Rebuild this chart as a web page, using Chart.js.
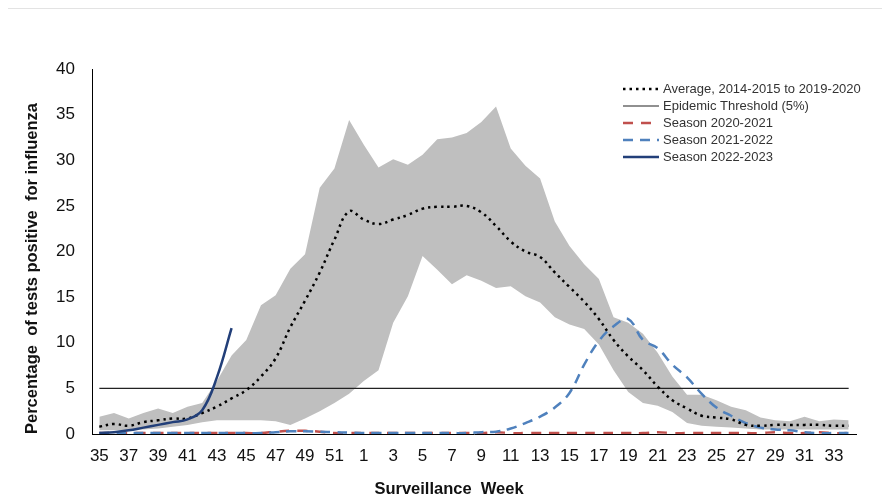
<!DOCTYPE html>
<html lang="en">
<head>
<meta charset="UTF-8">
<title>Influenza positivity by surveillance week</title>
<style>
  html, body { margin: 0; padding: 0; background: #fff; }
  .topline { position: absolute; top: 8px; left: 8px; right: 0; height: 1px; background: #e3e3e3; }
  #chart { position: absolute; top: 0; left: 0; width: 882px; height: 503px; }
</style>
</head>
<body>
<div class="topline"></div>
<canvas id="chart" width="882" height="503"></canvas>

<script src="https://cdn.jsdelivr.net/npm/chart.js"></script>
<script>
  // surveillance weeks 35 .. 52, 1 .. 34
  const weeks = [35, 36, 37, 38, 39, 40, 41, 42, 43, 44, 45, 46, 47, 48, 49, 50, 51, 52,
                 1, 2, 3, 4, 5, 6, 7, 8, 9, 10, 11, 12, 13, 14, 15, 16, 17, 18, 19, 20,
                 21, 22, 23, 24, 25, 26, 27, 28, 29, 30, 31, 32, 33, 34];

  // min / max range of the 2014-2015 .. 2019-2020 seasons (grey band)
  const rangeLow = [0.4, 0.4, 0.4, 0.5, 0.6, 0.8, 1.0, 1.3, 1.5, 1.5,
                    1.5, 1.5, 1.4, 1.0, 1.7, 2.5, 3.4, 4.4, 5.8, 7.0,
                    12.2, 15.1, 19.5, 18.0, 16.4, 17.4, 16.8, 16.0, 16.2, 15.1,
                    14.4, 12.8, 12.0, 11.5, 9.8, 7.0, 4.6, 3.4, 3.1, 2.4,
                    1.2, 0.9, 0.8, 0.7, 0.6, 0.5, 0.5, 0.5, 0.5, 0.5,
                    0.5, 0.5];
  const rangeHigh = [1.9, 2.3, 1.7, 2.3, 2.8, 2.3, 3.0, 3.4, 5.8, 8.6,
                     10.3, 14.1, 15.2, 18.1, 19.7, 27.0, 29.1, 34.4, 31.7, 29.2,
                     30.1, 29.5, 30.6, 32.3, 32.5, 33.0, 34.2, 35.9, 31.3, 29.4,
                     28.0, 23.3, 20.6, 18.6, 17.0, 12.8, 12.2, 11.0, 8.9, 6.3,
                     4.3, 4.3, 3.7, 3.0, 2.6, 1.8, 1.5, 1.4, 1.9, 1.4,
                     1.6, 1.5];

  const average = [0.8, 1.1, 0.9, 1.3, 1.5, 1.7, 1.7, 2.3, 3.0, 3.9,
                   4.8, 6.3, 8.3, 11.7, 14.6, 17.7, 21.3, 24.4, 23.5, 23.0,
                   23.5, 24.0, 24.7, 24.9, 24.9, 25.0, 24.3, 22.8, 21.1, 20.0,
                   19.4, 17.7, 16.1, 14.5, 12.6, 10.3, 8.5, 7.0, 5.2, 3.7,
                   2.8, 2.0, 1.8, 1.6, 1.0, 0.9, 1.0, 1.0, 1.0, 1.0,
                   0.9, 0.9];

  const season2021 = [0.1, 0.1, 0.1, 0.1, 0.1, 0.1, 0.1, 0.1, 0.1, 0.1,
                      0.1, 0.1, 0.25, 0.35, 0.35, 0.25, 0.1, 0.1, 0.1, 0.1,
                      0.1, 0.1, 0.1, 0.1, 0.1, 0.1, 0.1, 0.2, 0.1, 0.1,
                      0.1, 0.1, 0.1, 0.1, 0.1, 0.1, 0.1, 0.1, 0.2, 0.1,
                      0.1, 0.1, 0.1, 0.1, 0.1, 0.1, 0.2, 0.1, 0.1, 0.2,
                      0.1, 0.1];

  const season2122 = [0.1, 0.1, 0.1, 0.1, 0.1, 0.1, 0.1, 0.1, 0.1, 0.1,
                      0.1, 0.1, 0.2, 0.3, 0.3, 0.25, 0.2, 0.15, 0.1, 0.1,
                      0.1, 0.1, 0.1, 0.1, 0.1, 0.1, 0.2, 0.25, 0.6, 1.2,
                      1.9, 2.9, 4.5, 7.6, 10.2, 11.8, 12.6, 10.3, 9.4, 7.6,
                      6.2, 4.4, 2.9, 2.0, 1.2, 0.7, 0.5, 0.4, 0.2, 0.1,
                      0.1, 0.1];

  const season2223 = [0.1, 0.2, 0.4, 0.7, 1.0, 1.3, 1.6, 2.6, 6.2, 11.6];

  const THRESHOLD = 5;
  const threshold = weeks.map(() => THRESHOLD);

  const FONT = '"Liberation Sans", Arial, sans-serif';

  // legend drawn in the top right corner of the plot
  const legendOrder = [2, 3, 4, 5, 6];
  const sideLegend = {
    id: 'sideLegend',
    afterDraw(chart) {
      const ctx = chart.ctx;
      ctx.save();
      ctx.font = '13px ' + FONT;
      ctx.textBaseline = 'middle';
      legendOrder.forEach((idx, row) => {
        const ds = chart.data.datasets[idx];
        const y = 89 + row * 17;
        ctx.beginPath();
        ctx.setLineDash(ds.borderDash || []);
        ctx.lineWidth = ds.borderWidth;
        ctx.strokeStyle = ds.borderColor;
        ctx.moveTo(623, y);
        ctx.lineTo(659, y);
        ctx.stroke();
        ctx.setLineDash([]);
        ctx.fillStyle = '#333';
        ctx.fillText(ds.label, 663, y);
      });
      ctx.restore();
    }
  };

  const xTitle = {
    id: 'xTitle',
    afterDraw(chart) {
      const ctx = chart.ctx;
      ctx.save();
      ctx.font = 'bold 16.5px ' + FONT;
      ctx.fillStyle = '#111';
      ctx.textAlign = 'center';
      ctx.textBaseline = 'middle';
      ctx.fillText('Surveillance  Week', 449, 489);
      ctx.restore();
    }
  };

  new Chart(document.getElementById('chart'), {
    type: 'line',
    data: {
      labels: weeks,
      datasets: [
        { label: 'range low', data: rangeLow, borderWidth: 0, pointRadius: 0,
          fill: false, tension: 0, order: 6 },
        { label: 'range high', data: rangeHigh, borderWidth: 0, pointRadius: 0,
          fill: '-1', backgroundColor: '#bfbfbf', tension: 0, order: 5 },
        { label: 'Average, 2014-2015 to 2019-2020', data: average, borderColor: '#000',
          borderWidth: 2.5, borderDash: [2.5, 4], pointRadius: 0, tension: 0.4, order: 1 },
        { label: 'Epidemic Threshold (5%)', data: threshold, borderColor: '#222',
          borderWidth: 1.2, pointRadius: 0, tension: 0, order: 4 },
        { label: 'Season 2020-2021', data: season2021, borderColor: '#c0504d',
          borderWidth: 2.5, borderDash: [10, 8], pointRadius: 0, tension: 0.4, order: 3 },
        { label: 'Season 2021-2022', data: season2122, borderColor: '#4f81bd',
          borderWidth: 2.5, borderDash: [10, 7], pointRadius: 0, tension: 0.4, order: 2 },
        { label: 'Season 2022-2023', data: season2223, borderColor: '#223f79',
          borderWidth: 2.5, pointRadius: 0, tension: 0.4, order: 0 }
      ]
    },
    options: {
      responsive: false,
      animation: false,
      layout: { padding: { top: 69, right: 26, left: 0, bottom: 0 } },
      plugins: {
        legend: { display: false },
        tooltip: { enabled: false }
      },
      scales: {
        x: {
          offset: true,
          grid: { display: false, drawTicks: false },
          border: { display: true, color: '#000', width: 1 },
          ticks: {
            autoSkip: false,
            maxRotation: 0,
            minRotation: 0,
            padding: 12,
            color: '#111',
            font: { family: FONT, size: 17 },
            callback: function (value, index) {
              return index % 2 === 0 ? this.getLabelForValue(value) : '';
            }
          },
          afterFit: s => { s.height = 69; }
        },
        y: {
          min: 0,
          max: 40,
          grid: { display: false, drawTicks: false },
          border: { display: true, color: '#000', width: 1 },
          ticks: {
            stepSize: 5,
            padding: 17,
            color: '#111',
            font: { family: FONT, size: 17 }
          },
          title: {
            display: true,
            text: 'Percentage  of tests positive  for influenza',
            align: 'start',
            color: '#111',
            font: { family: FONT, size: 16.5, weight: 'bold' },
            padding: { top: 23, bottom: 0 }
          },
          afterFit: s => { s.width = 92; }
        }
      }
    },
    plugins: [sideLegend, xTitle]
  });
</script>
</body>
</html>
